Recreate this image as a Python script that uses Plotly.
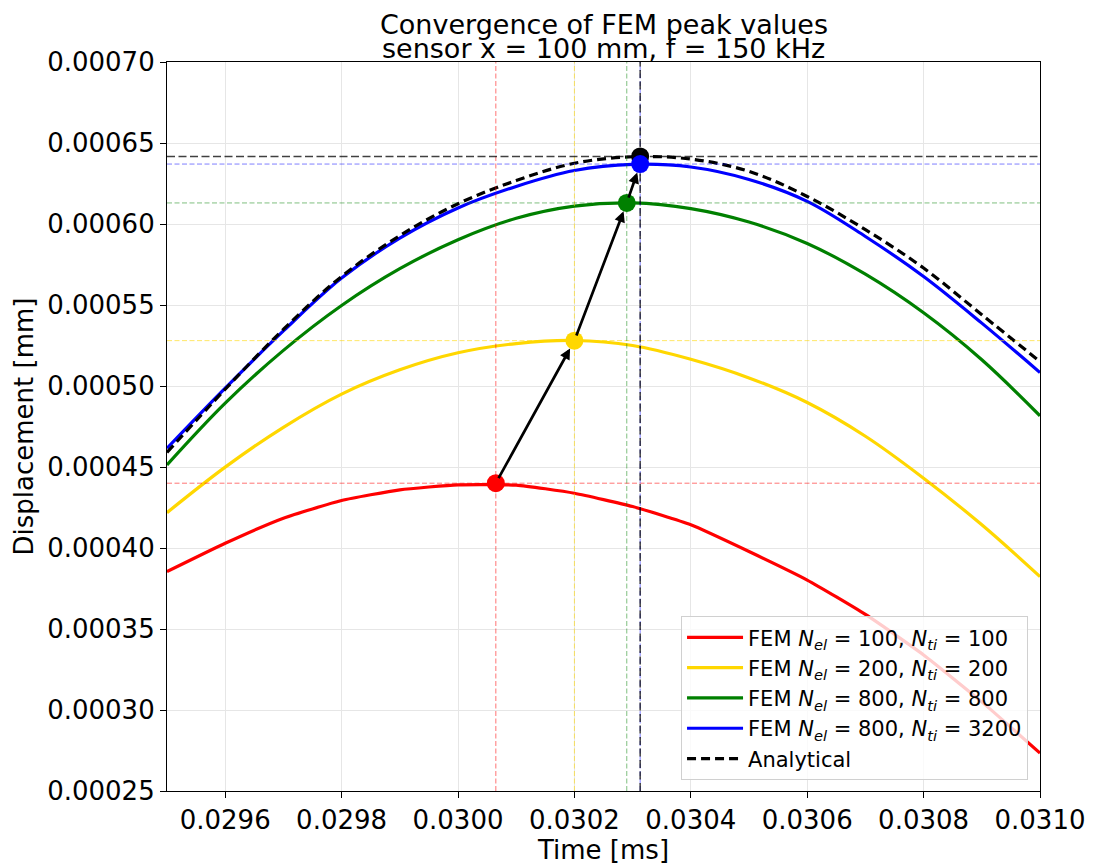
import plotly.graph_objects as go

# Sample times [ms]
t = [0.0295, 0.0296, 0.0297, 0.0298, 0.0299, 0.0300, 0.0301, 0.0302,
     0.0303, 0.0304, 0.0305, 0.0306, 0.0307, 0.0308, 0.0309, 0.0310]

# Displacement [mm] for each discretisation and the analytical solution
u_100_100 = [0.0003854, 0.0004029, 0.0004184, 0.0004293, 0.0004359, 0.0004390, 0.0004388, 0.0004338,
             0.0004256, 0.0004143, 0.0003978, 0.0003802, 0.0003590, 0.0003340, 0.0003050, 0.0002734]
u_200_200 = [0.0004218, 0.0004499, 0.0004745, 0.0004950, 0.0005100, 0.0005205, 0.0005262, 0.0005281,
             0.0005250, 0.0005165, 0.0005050, 0.0004898, 0.0004690, 0.0004431, 0.0004143, 0.0003823]
u_800_800 = [0.0004513, 0.0004894, 0.0005220, 0.0005497, 0.0005724, 0.0005903, 0.0006035, 0.0006110,
             0.0006130, 0.0006095, 0.0006012, 0.0005880, 0.0005690, 0.0005452, 0.0005162, 0.0004816]
u_800_3200 = [0.0004616, 0.0004987, 0.0005340, 0.0005666, 0.0005913, 0.0006099, 0.0006232, 0.0006330,
              0.0006368, 0.0006352, 0.0006275, 0.0006140, 0.0005923, 0.0005676, 0.0005388, 0.0005083]
u_analytical = [0.0004590, 0.0004980, 0.0005350, 0.0005676, 0.0005928, 0.0006125, 0.0006268, 0.0006375,
                0.0006415, 0.0006401, 0.0006325, 0.0006170, 0.0005965, 0.0005728, 0.0005440, 0.0005151]

# Peak locations (time [ms], displacement [mm])
peak_t = [0.030065, 0.030200, 0.030290, 0.030313]
peak_u = [0.000440, 0.000528, 0.000613, 0.000637]
peak_t_analytical = 0.030313
peak_u_analytical = 0.0006417

labels = [
    "FEM <i>N</i><sub><i>el</i></sub> = 100, <i>N</i><sub><i>ti</i></sub> = 100",
    "FEM <i>N</i><sub><i>el</i></sub> = 200, <i>N</i><sub><i>ti</i></sub> = 200",
    "FEM <i>N</i><sub><i>el</i></sub> = 800, <i>N</i><sub><i>ti</i></sub> = 800",
    "FEM <i>N</i><sub><i>el</i></sub> = 800, <i>N</i><sub><i>ti</i></sub> = 3200",
]
colors = ["#ff0000", "#ffd700", "#008000", "#0000ff"]
guide_colors = ["rgba(255,0,0,0.55)", "rgba(255,215,0,0.6)", "rgba(0,128,0,0.5)", "rgba(0,0,255,0.5)"]
smooth = [0.5, 1.0, 1.0, 1.0]

x_range = [0.0295, 0.0310]
y_range = [0.00025, 0.00070]

FONT = "DejaVu Sans"

fig = go.Figure()

# Displacement curves
series = [u_100_100, u_200_200, u_800_800, u_800_3200]
for u, c, name, s in zip(series, colors, labels, smooth):
    fig.add_trace(go.Scatter(x=t, y=u, mode="lines", name=name,
                             line=dict(color=c, width=3.2, shape="spline", smoothing=s)))
fig.add_trace(go.Scatter(x=t, y=u_analytical, mode="lines", name="Analytical",
                         line=dict(color="black", width=3.2, dash="9px,5px",
                                   shape="spline", smoothing=1.0)))

# Dashed guide lines through each FEM peak
for pt, pu, gc in zip(peak_t, peak_u, guide_colors):
    fig.add_trace(go.Scatter(x=[pt, pt], y=y_range, mode="lines", showlegend=False,
                             hoverinfo="skip", line=dict(color=gc, width=1, dash="5px,2.5px")))
    fig.add_trace(go.Scatter(x=x_range, y=[pu, pu], mode="lines", showlegend=False,
                             hoverinfo="skip", line=dict(color=gc, width=1, dash="5px,2.5px")))

# Analytical peak guide lines (slightly heavier)
fig.add_trace(go.Scatter(x=[peak_t_analytical, peak_t_analytical], y=y_range, mode="lines",
                         showlegend=False, hoverinfo="skip",
                         line=dict(color="rgba(0,0,0,0.75)", width=1.5, dash="8px,3.5px")))
fig.add_trace(go.Scatter(x=x_range, y=[peak_u_analytical, peak_u_analytical], mode="lines",
                         showlegend=False, hoverinfo="skip",
                         line=dict(color="rgba(0,0,0,0.75)", width=1.5, dash="8px,3.5px")))

# Peak markers (analytical drawn beneath the finest FEM peak)
for i in range(3):
    fig.add_trace(go.Scatter(x=[peak_t[i]], y=[peak_u[i]], mode="markers", showlegend=False,
                             marker=dict(color=colors[i], size=18)))
fig.add_trace(go.Scatter(x=[peak_t_analytical], y=[peak_u_analytical], mode="markers",
                         showlegend=False, marker=dict(color="black", size=18)))
fig.add_trace(go.Scatter(x=[peak_t[3]], y=[peak_u[3]], mode="markers", showlegend=False,
                         marker=dict(color=colors[3], size=18)))

# Arrows linking successive peaks
annotations = []
for i in range(len(peak_t) - 1):
    annotations.append(dict(x=peak_t[i + 1], y=peak_u[i + 1], ax=peak_t[i], ay=peak_u[i],
                            xref="x", yref="y", axref="x", ayref="y", text="",
                            showarrow=True, arrowhead=2, arrowsize=0.8, arrowwidth=2.7,
                            arrowcolor="black", standoff=9, startstandoff=4))

# Two-line title
annotations.append(dict(text="Convergence of FEM peak values", x=0.5, y=1.0521,
                        xref="paper", yref="paper", xanchor="center", yanchor="middle",
                        showarrow=False, font=dict(family=FONT, size=27, color="black")))
annotations.append(dict(text="sensor x = 100 mm, f = 150 kHz", x=0.5, y=1.0185,
                        xref="paper", yref="paper", xanchor="center", yanchor="middle",
                        showarrow=False, font=dict(family=FONT, size=27, color="black")))

axis_common = dict(showline=True, linecolor="black", linewidth=1.2, mirror=True,
                   ticks="outside", ticklen=6, tickwidth=1.2, tickcolor="black",
                   showgrid=True, gridcolor="#e6e6e6", gridwidth=1, zeroline=False,
                   automargin=False,
                   tickfont=dict(family=FONT, size=26, color="black"))

fig.update_layout(
    width=1094, height=866,
    margin=dict(l=167, r=54, t=62, b=75),
    paper_bgcolor="white", plot_bgcolor="white",
    font=dict(family=FONT, color="black"),
    annotations=annotations,
    xaxis=dict(range=x_range, tick0=0.0296, dtick=0.0002, tickformat=".4f",
               title=dict(text="Time [ms]", font=dict(family=FONT, size=26), standoff=4),
               **axis_common),
    yaxis=dict(range=y_range, tick0=0.00025, dtick=0.00005, tickformat=".5f",
               title=dict(text="Displacement [mm]", font=dict(family=FONT, size=26), standoff=6),
               **axis_common),
    legend=dict(x=0.9863, y=0.0148, xanchor="right", yanchor="bottom", itemwidth=56,
                bgcolor="rgba(255,255,255,0.8)", bordercolor="#d0d0d0", borderwidth=1,
                font=dict(family=FONT, size=21, color="black")),
    showlegend=True,
)

fig.write_html("out.html")
